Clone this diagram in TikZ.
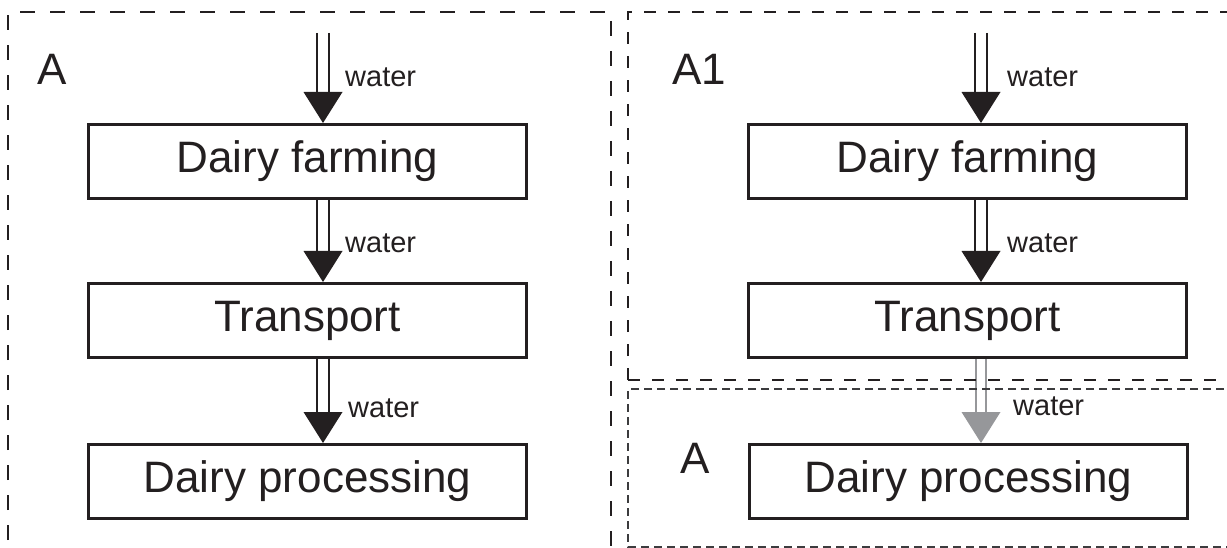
\documentclass[tikz,border=0pt]{standalone}
\usepackage{fontspec}
\setmainfont{Liberation Sans}
\usetikzlibrary{calc}

\definecolor{ink}{RGB}{35,31,32}
\definecolor{flowgray}{RGB}{150,151,154}
\definecolor{framegray}{RGB}{60,60,62}

\tikzset{
  stage/.style={draw=ink, line width=3pt, text=ink,
    font=\fontsize{44}{50}\selectfont,
    minimum width=438pt, minimum height=74pt, inner sep=0pt},
  tag/.style={text=ink, font=\fontsize{29}{34}\selectfont,
    inner sep=0pt, anchor=base west},
  panelname/.style={text=ink, font=\fontsize{44}{50}\selectfont,
    inner sep=0pt, anchor=base west},
  outerframe/.style={draw=ink, line width=2.7pt, dash pattern=on 15pt off 15pt},
  innerframe/.style={draw=ink, line width=2.4pt, dash pattern=on 12pt off 12pt},
  thinframe/.style={draw=framegray, line width=1.3pt, dash pattern=on 8pt off 5pt},
}

% double-line water flow with a filled triangular head
% #1 colour, #2 start point, #3 tip point, #4 half spacing of the two lines
\newcommand\waterflow[4]{%
  \draw[#1, line width=2.7pt] ($(#2)+(-#4,0)$) -- ($(#3)+(-#4,-29)$);
  \draw[#1, line width=2.7pt] ($(#2)+(#4,0)$) -- ($(#3)+(#4,-29)$);
  \fill[#1] ($(#3)+(-19.5,-31)$) -- ($(#3)+(19.5,-31)$) -- (#3) -- cycle;
}

\begin{document}
\begin{tikzpicture}[x=1pt, y=-1pt]
  \useasboundingbox (0,0) rectangle (1227,548);
  \clip (0,0) rectangle (1227,548);

  % left chain
  \node[stage] (farmL)  at (307.5,161.5) {Dairy farming};
  \node[stage] (transL) at (307.5,320.5) {Transport};
  \node[stage] (procL)  at (307.5,481.5) {Dairy processing};
  \coordinate (inL) at (323,33);

  \waterflow{ink}{inL}{farmL.north -| inL}{6}
  \waterflow{ink}{farmL.south -| inL}{transL.north -| inL}{6}
  \waterflow{ink}{transL.south -| inL}{procL.north -| inL}{6}

  \node[tag] (wL1) at (345,87)  {water};
  \node[tag] (wL2) at (345,253) {water};
  \node[tag] (wL3) at (348,417) {water};
  \node[panelname] (labA) at (37,85) {A};

  % right chain
  \node[stage] (farmR)  at (967.5,161.5) {Dairy farming};
  \node[stage] (transR) at (967.5,320.5) {Transport};
  \node[stage] (procR)  at (968.5,481.5) {Dairy processing};
  \coordinate (inR) at (981,33);

  \waterflow{ink}{inR}{farmR.north -| inR}{6}
  \waterflow{ink}{farmR.south -| inR}{transR.north -| inR}{6}
  \waterflow{flowgray}{transR.south -| inR}{procR.north -| inR}{5}

  \node[tag] (wR1) at (1007,87)  {water};
  \node[tag] (wR2) at (1007,253) {water};
  \node[tag] (wR3) at (1013,415) {water};
  \node[panelname] (labA1) at (672,85) {A1};
  \node[panelname] (labA2) at (680,473) {A};

  % dashed frames
  \draw[outerframe] (8,570) -- (8,12) -- (611,12) -- (611,570);
  \draw[innerframe] (628,380) -- (628,12) -- (1250,12);
  \draw[innerframe] (628,380) -- (1250,380);
  \draw[thinframe] (1250,389) -- (628,389) -- (628,547) -- (1250,547);
\end{tikzpicture}
\end{document}
